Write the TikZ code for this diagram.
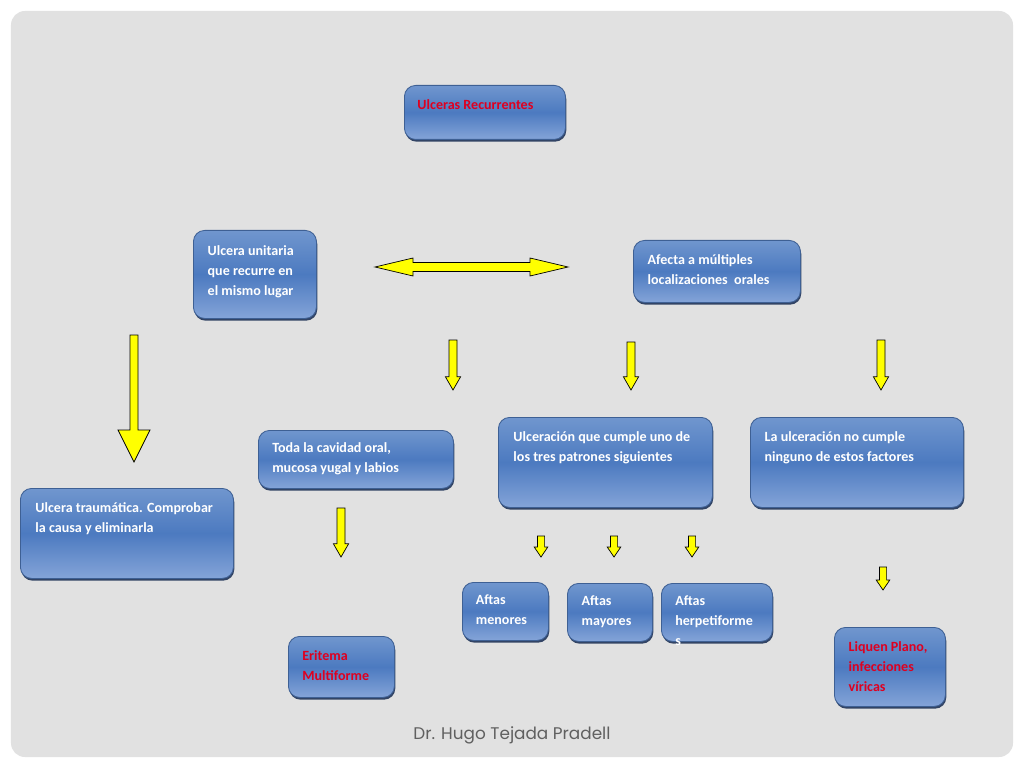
\documentclass[tikz,border=0pt]{standalone}
\usepackage{fontspec}
\setmainfont{Carlito}
\newfontfamily\signfont{Poppins}
\usepackage{tikz}
\usetikzlibrary{positioning, shadows, calc}
\definecolor{cardgrey}{RGB}{225, 225, 225}
\definecolor{boxtop}{RGB}{112, 150, 206}
\definecolor{boxmid}{RGB}{76, 122, 192}
\definecolor{boxbot}{RGB}{132, 164, 216}
\definecolor{boxedge}{RGB}{62, 96, 148}
\definecolor{boxshadow}{RGB}{32, 52, 88}
\definecolor{alertred}{RGB}{222, 0, 32}
\definecolor{signgrey}{RGB}{96, 96, 96}
\definecolor{arrowyellow}{RGB}{255, 255, 0}

\tikzset{
  ubox/.style={draw=boxedge, line width=0.6pt, rounded corners=0.28cm, anchor=north west,
    top color=boxtop, bottom color=boxbot, middle color=boxmid, inner sep=0pt,
    drop shadow={shadow xshift=0.6pt, shadow yshift=-1.6pt, fill=boxshadow, opacity=0.9}},
  utext/.style={anchor=north west, inner sep=0pt, align=left, text=white,
    font=\fontsize{10}{14.2}\selectfont\bfseries},
  rtext/.style={utext, text=alertred},
  yarrow/.style={draw=black, line width=0.5pt, fill=arrowyellow, line join=miter},
  signtext/.style={font=\signfont\fontsize{12}{14}\selectfont, text=signgrey, inner sep=0pt}
}

% block arrow pointing down: start coordinate, length, shaft half, head half, head length
\newcommand{\downblock}[5]{%
  \draw[yarrow] (#1) ++(-#3,0) -- ++(2*#3,0) -- ++(0,-#2+#5) -- ++(#4-#3,0)
    -- ++(-#4,-#5) -- ++(-#4,#5) -- ++(#4-#3,0) -- cycle;}

\begin{document}
\begin{tikzpicture}
  \fill[white] (0,0) rectangle (25.6,-19.2);
  \useasboundingbox (0,0) rectangle (25.6,-19.2);
  % slide card
  \fill[cardgrey, rounded corners=0.35cm] (0.275,-0.275) rectangle (25.325,-18.925);

  % Top box
  \node[ubox, minimum width=4.025cm, minimum height=1.35cm] (rec) at (10.1,-2.125) {};
  \node[rtext] (rec-t) at ([xshift=0.33cm, yshift=-0.35cm]rec.north west) {Ulceras Recurrentes};

  % Second row
  \node[ubox, minimum width=3.075cm, minimum height=2.2cm] (uni) at (4.825,-5.75) {};
  \node[utext] (uni-t) at ([xshift=0.36cm, yshift=-0.38cm]uni.north west)
    {Ulcera unitaria\\que recurre en\\el mismo lugar};
  \node[ubox, minimum width=4.175cm, minimum height=1.55cm] (mul) at (15.825,-6.0) {};
  \node[utext] (mul-t) at ([xshift=0.36cm, yshift=-0.36cm]mul.north west)
    {Afecta a múltiples\\localizaciones\ \ orales};

  % Double arrow between them
  \coordinate (dl) at (9.375,-6.675);
  \coordinate (dr) at (14.2,-6.675);
  \draw[yarrow] (dl) -- ++(0.95,0.225) -- ++(0,-0.115) -- ($(dr)+(-0.95,0.11)$) -- ++(0,0.115)
    -- (dr) -- ++(-0.95,-0.225) -- ++(0,0.115) -- ($(dl)+(0.95,-0.11)$) -- ++(0,-0.115) -- cycle;

  % Down arrows
  \coordinate (a-uni) at (3.35,-8.375);
  \downblock{a-uni}{3.175}{0.1}{0.4}{0.8}
  \coordinate (a-tod) at (11.325,-8.5);
  \downblock{a-tod}{1.25}{0.1}{0.19}{0.33}
  \coordinate (a-tre) at (15.775,-8.55);
  \downblock{a-tre}{1.2}{0.1}{0.19}{0.33}
  \coordinate (a-nin) at (22.025,-8.5);
  \downblock{a-nin}{1.25}{0.1}{0.19}{0.33}

  % Third row
  \node[ubox, minimum width=5.325cm, minimum height=2.25cm] (tra) at (0.5,-12.2) {};
  \node[utext] (tra-t) at ([xshift=0.38cm, yshift=-0.36cm]tra.north west)
    {Ulcera traumática. Comprobar\\la causa y eliminarla};
  \node[ubox, minimum width=4.875cm, minimum height=1.45cm] (tod) at (6.45,-10.75) {};
  \node[utext] (tod-t) at ([xshift=0.35cm, yshift=-0.32cm]tod.north west)
    {Toda la cavidad oral,\\mucosa yugal y labios};
  \node[ubox, minimum width=5.35cm, minimum height=2.25cm] (tre) at (12.45,-10.425) {};
  \node[utext] (tre-t) at ([xshift=0.38cm, yshift=-0.36cm]tre.north west)
    {Ulceración que cumple uno de\\los tres patrones siguientes};
  \node[ubox, minimum width=5.325cm, minimum height=2.25cm] (nin) at (18.75,-10.425) {};
  \node[utext] (nin-t) at ([xshift=0.36cm, yshift=-0.36cm]nin.north west)
    {La ulceración no cumple\\ninguno de estos factores};

  % Arrows to the last row
  \coordinate (a-eri) at (8.525,-12.7);
  \downblock{a-eri}{1.225}{0.1}{0.19}{0.33}
  \foreach \x in {13.525, 15.35, 17.3}{
    \coordinate (a-aft) at (\x,-13.4);
    \downblock{a-aft}{0.525}{0.09}{0.17}{0.25}
  }
  \coordinate (a-liq) at (22.075,-14.175);
  \downblock{a-liq}{0.575}{0.09}{0.17}{0.25}

  % Last row
  \node[ubox, minimum width=2.15cm, minimum height=1.45cm] (men) at (11.55,-14.55) {};
  \node[utext] (men-t) at ([xshift=0.34cm, yshift=-0.32cm]men.north west) {Aftas\\menores};
  \node[ubox, minimum width=2.125cm, minimum height=1.45cm] (may) at (14.175,-14.575) {};
  \node[utext] (may-t) at ([xshift=0.36cm, yshift=-0.32cm]may.north west) {Aftas\\mayores};
  \node[ubox, minimum width=2.775cm, minimum height=1.45cm] (her) at (16.525,-14.575) {};
  \node[utext] (her-t) at ([xshift=0.35cm, yshift=-0.32cm]her.north west) {Aftas\\herpetiforme\\s};
  \node[ubox, minimum width=2.65cm, minimum height=1.525cm] (eri) at (7.2,-15.9) {};
  \node[rtext] (eri-t) at ([xshift=0.35cm, yshift=-0.35cm]eri.north west) {Eritema\\Multiforme};
  \node[ubox, minimum width=2.775cm, minimum height=1.975cm] (liq) at (20.85,-15.675) {};
  \node[rtext] (liq-t) at ([xshift=0.36cm, yshift=-0.35cm]liq.north west)
    {Liquen Plano,\\infecciones\\víricas};

  % Signature
  \node[signtext] (sign) at (12.8,-18.38) {Dr. Hugo Tejada Pradell};
\end{tikzpicture}
\end{document}
